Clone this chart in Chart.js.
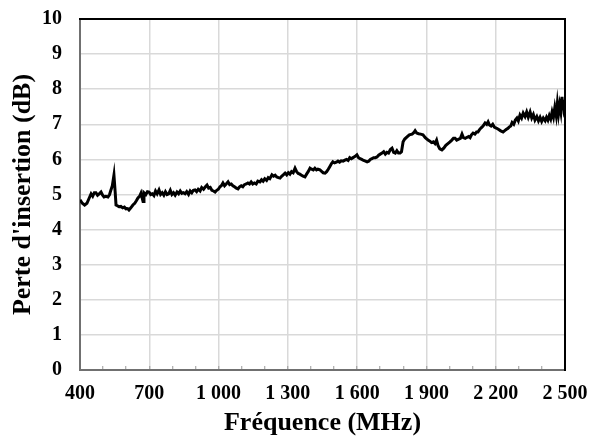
<!DOCTYPE html>
<html>
<head>
<meta charset="utf-8">
<script src="https://cdn.jsdelivr.net/npm/chart.js@4"></script>
<style>
  body { margin: 0; background: #fff; }
  #wrap { width: 589px; height: 439px; position: relative; }
</style>
</head>
<body>
<div id="wrap"><canvas id="perteChart"></canvas></div>
<script>
// Fréquences mesurées (MHz)
const freqMHz = [
  400, 410, 420, 430, 440, 448, 455, 462, 469, 476, 483, 491, 498, 504, 512, 521, 528, 534, 540, 547,
  552, 556, 562, 569, 577, 585, 592, 599, 606, 612, 620, 629, 637, 644, 651, 658, 664, 669, 673, 677,
  685, 692, 699, 706, 713, 720, 727, 734, 742, 749, 756, 763, 770, 777, 784, 791, 798, 805, 812, 820,
  827, 834, 841, 848, 855, 862, 870, 877, 884, 891, 898, 905, 912, 920, 927, 935, 943, 950, 957, 964,
  971, 978, 985, 992, 999, 1006, 1012, 1019, 1026, 1033, 1041, 1048, 1055, 1062, 1069, 1077, 1084, 1091, 1098, 1105,
  1112, 1120, 1127, 1134, 1141, 1148, 1155, 1163, 1170, 1179, 1186, 1193, 1200, 1208, 1215, 1222, 1231, 1238, 1245, 1252,
  1259, 1266, 1273, 1280, 1288, 1295, 1302, 1309, 1316, 1323, 1331, 1338, 1345, 1352, 1359, 1366, 1374, 1381, 1388, 1396,
  1403, 1410, 1417, 1424, 1430, 1439, 1446, 1453, 1461, 1468, 1475, 1482, 1489, 1495, 1502, 1510, 1517, 1524, 1531, 1539,
  1547, 1554, 1561, 1568, 1575, 1582, 1590, 1599, 1606, 1613, 1620, 1628, 1636, 1643, 1650, 1657, 1664, 1671, 1679, 1686,
  1693, 1700, 1708, 1715, 1722, 1729, 1736, 1744, 1751, 1758, 1765, 1772, 1779, 1786, 1792, 1799, 1806, 1816, 1826, 1838,
  1845, 1851, 1858, 1866, 1875, 1885, 1895, 1907, 1915, 1922, 1930, 1937, 1944, 1950, 1958, 1967, 1975, 1984, 1993, 2002,
  2010, 2017, 2024, 2031, 2040, 2047, 2054, 2060, 2068, 2076, 2083, 2089, 2095, 2102, 2110, 2117, 2123, 2130, 2137, 2145,
  2154, 2161, 2167, 2173, 2180, 2187, 2194, 2200, 2206, 2213, 2220, 2226, 2232, 2239, 2245, 2252, 2258, 2265, 2271, 2278,
  2285, 2292, 2298, 2305, 2312, 2319, 2327, 2334, 2341, 2349, 2356, 2363, 2370, 2378, 2385, 2392, 2399, 2406, 2414, 2420,
  2426, 2432, 2438, 2444, 2450, 2456, 2462, 2467, 2472, 2477, 2482, 2487, 2491, 2494, 2497, 2500
];

// Perte d'insertion (dB)
const perteDB = [
  4.85, 4.75, 4.70, 4.75, 4.90, 5.02, 4.95, 5.05, 5.05, 4.98, 5.02, 5.07, 4.98, 4.93, 4.95, 4.93, 5.00, 5.13, 5.25, 5.55,
  5.10, 4.70, 4.68, 4.65, 4.66, 4.62, 4.64, 4.59, 4.60, 4.56, 4.62, 4.70, 4.75, 4.82, 4.90, 4.95, 5.04, 4.90, 4.80, 5.05,
  5.00, 5.08, 5.07, 5.00, 5.02, 4.97, 5.10, 5.02, 5.13, 5.00, 5.05, 4.98, 5.08, 5.00, 5.02, 5.12, 5.00, 5.05, 4.98, 5.07,
  5.02, 5.10, 5.03, 5.05, 5.02, 5.08, 5.00, 5.10, 5.05, 5.12, 5.13, 5.08, 5.15, 5.10, 5.20, 5.15, 5.22, 5.27, 5.18, 5.20,
  5.12, 5.10, 5.07, 5.12, 5.15, 5.22, 5.25, 5.33, 5.25, 5.30, 5.36, 5.28, 5.30, 5.25, 5.22, 5.18, 5.16, 5.22, 5.25, 5.22,
  5.28, 5.30, 5.33, 5.30, 5.36, 5.30, 5.33, 5.30, 5.38, 5.36, 5.42, 5.38, 5.45, 5.40, 5.48, 5.45, 5.56, 5.52, 5.55, 5.50,
  5.48, 5.47, 5.52, 5.56, 5.61, 5.56, 5.62, 5.58, 5.65, 5.62, 5.75, 5.65, 5.60, 5.58, 5.55, 5.52, 5.50, 5.58, 5.65, 5.75,
  5.72, 5.70, 5.75, 5.70, 5.72, 5.70, 5.66, 5.62, 5.61, 5.65, 5.72, 5.80, 5.88, 5.93, 5.90, 5.92, 5.95, 5.92, 5.96, 5.95,
  5.98, 6.00, 5.97, 6.05, 6.02, 6.05, 6.08, 6.13, 6.05, 6.02, 6.00, 5.97, 5.95, 5.93, 5.95, 6.00, 6.02, 6.05, 6.05, 6.07,
  6.12, 6.15, 6.18, 6.22, 6.15, 6.20, 6.18, 6.28, 6.32, 6.20, 6.18, 6.25, 6.18, 6.18, 6.22, 6.50, 6.58, 6.64, 6.70, 6.72,
  6.76, 6.82, 6.75, 6.73, 6.72, 6.70, 6.62, 6.55, 6.52, 6.48, 6.50, 6.45, 6.55, 6.40, 6.30, 6.27, 6.32, 6.40, 6.45, 6.50,
  6.55, 6.60, 6.60, 6.55, 6.58, 6.60, 6.72, 6.62, 6.60, 6.63, 6.65, 6.62, 6.70, 6.75, 6.72, 6.78, 6.78, 6.85, 6.90, 6.95,
  7.04, 7.00, 7.07, 6.98, 6.95, 7.00, 6.92, 6.90, 6.88, 6.85, 6.82, 6.80, 6.78, 6.82, 6.85, 6.88, 6.92, 6.95, 7.05, 7.00,
  7.12, 7.18, 7.10, 7.26, 7.18, 7.32, 7.22, 7.35, 7.20, 7.35, 7.18, 7.28, 7.12, 7.22, 7.10, 7.20, 7.08, 7.18, 7.10, 7.20,
  7.12, 7.25, 7.15, 7.35, 7.20, 7.48, 7.25, 7.60, 7.30, 7.55, 7.35, 7.78, 7.40, 7.70, 7.30, 7.20
];

// Graduations de l'axe des fréquences
const xTickValues = [400, 700, 1000, 1300, 1600, 1900, 2200, 2500];
const xTickLabels = ['400', '700', '1 000', '1 300', '1 600', '1 900', '2 200', '2 500'];
const xMinorTicks = [400, 500, 600, 700, 800, 900, 1000, 1100, 1200, 1300, 1400,
                     1500, 1600, 1700, 1800, 1900, 2000, 2100, 2200, 2300, 2400, 2500];

const serif = '"Liberation Serif", "Times New Roman", serif';

const points = freqMHz.map((f, i) => ({ x: f, y: perteDB[i] }));

// no extra room for the end labels, the layout padding handles it
function noEdgePadding(scale) {
    scale.paddingTop = 0;
    scale.paddingBottom = 0;
    scale.paddingLeft = 0;
    scale.paddingRight = 0;
}

const ctx = document.getElementById('perteChart').getContext('2d');
const chart = new Chart(ctx, {
    type: 'line',
    data: {
        datasets: [{
            data: points,
            borderColor: '#000',
            borderWidth: 3,
            pointRadius: 0,
            tension: 0,
            fill: false
        }]
    },
    options: {
        responsive: true,
        maintainAspectRatio: false,
        animation: false,
        events: [],
        layout: { padding: { left: 0, right: 24, top: 19, bottom: 0 } },
        plugins: { legend: { display: false }, tooltip: { enabled: false } },
        scales: {
            x: {
                type: 'linear',
                position: 'bottom',
                min: 400,
                max: 2500,
                afterBuildTicks: (scale) => {
                    scale.ticks = xMinorTicks.map(v => ({ value: v }));
                },
                afterFit: (scale) => { scale.height = 69; noEdgePadding(scale); },
                ticks: {
                    autoSkip: false,
                    maxRotation: 0,
                    padding: 16,
                    color: '#000',
                    font: { family: serif, size: 20, weight: 'bold' },
                    callback: (v) => {
                        const i = xTickValues.indexOf(v);
                        return i >= 0 ? xTickLabels[i] : '';
                    }
                },
                grid: {
                    color: (c) => xTickValues.includes(c.tick && c.tick.value) ? '#d9d9d9' : 'rgba(0,0,0,0)',
                    lineWidth: 1.5,
                    tickLength: -4,
                    tickColor: '#999',
                    tickWidth: 1
                },
                border: { color: '#707070', width: 2 },
                title: {
                    display: true,
                    text: 'Fréquence (MHz)',
                    color: '#000',
                    font: { family: serif, size: 26, weight: 'bold' },
                    padding: { top: 0, bottom: 0 }
                }
            },
            y: {
                min: 0,
                max: 10,
                afterFit: (scale) => { scale.width = 80; noEdgePadding(scale); },
                ticks: {
                    stepSize: 1,
                    padding: 18,
                    color: '#000',
                    font: { family: serif, size: 20, weight: 'bold' }
                },
                grid: { color: '#d9d9d9', lineWidth: 1.5, drawTicks: false },
                border: { color: '#707070', width: 2 },
                title: {
                    display: true,
                    text: "Perte d'insertion (dB)",
                    color: '#000',
                    font: { family: serif, size: 26, weight: 'bold' },
                    padding: { top: 8, bottom: 0 }
                }
            },
            xTop: {
                type: 'linear',
                position: 'top',
                min: 400,
                max: 2500,
                ticks: { display: false },
                grid: { display: false, drawTicks: false },
                border: { color: '#000', width: 2 },
                afterFit: (scale) => { scale.height = 0; noEdgePadding(scale); }
            },
            yRight: {
                position: 'right',
                min: 0,
                max: 10,
                ticks: { display: false },
                grid: { display: false, drawTicks: false },
                border: { color: '#000', width: 2 },
                afterFit: (scale) => { scale.width = 0; noEdgePadding(scale); }
            }
        }
    }
});
</script>
</body>
</html>
